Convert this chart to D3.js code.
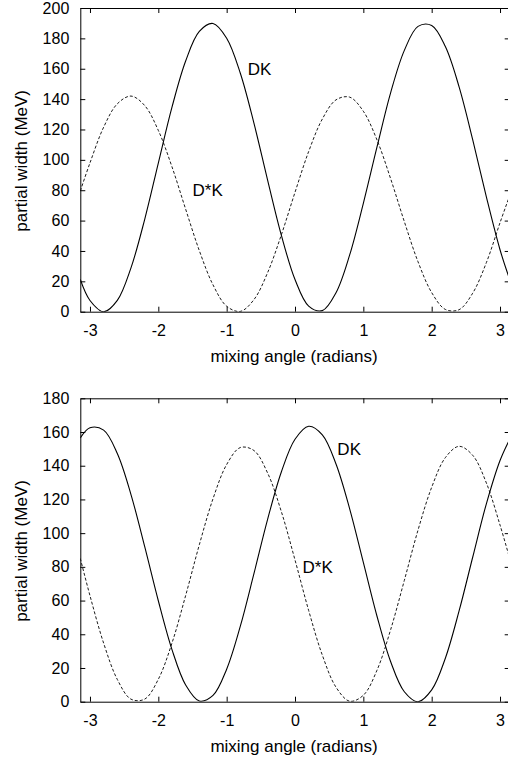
<!DOCTYPE html>
<html>
<head>
<meta charset="utf-8">
<script src="https://cdn.jsdelivr.net/npm/d3@7"></script>
<style>
  html, body { margin: 0; padding: 0; background: #fff; }
  svg { display: block; font-family: "Liberation Sans", Arial, Helvetica, sans-serif; }
  .tick text { font-size: 16px; fill: #000; }
  .axis-title, .curve-label { font-size: 17px; fill: #000; }
</style>
</head>
<body>
<script>
// mixing angle samples (radians)
const angles = [-3.1416, -3.0, -2.8, -2.6, -2.4, -2.2, -2.0, -1.8, -1.6, -1.4, -1.2, -1.0,
  -0.8, -0.6, -0.4, -0.2, 0.0, 0.2, 0.4, 0.6, 0.8, 1.0, 1.2, 1.4, 1.6, 1.8, 2.0,
  2.2, 2.4, 2.6, 2.8, 3.0, 3.1416];

// upper panel, partial widths in MeV
const dkTop = [21.2, 7.4, 0.0, 7.5, 28.9, 60.7, 97.9, 134.7, 165.1, 184.6, 189.8, 180.1,
  157.0, 124.0, 86.5, 50.4, 21.2, 3.7, 0.7, 12.5, 37.4, 71.4, 108.5, 144.3, 172.1, 187.9, 188.5,
  174.6, 148.2, 113.3, 75.6, 40.8, 21.2];
const dstarkTop = [79.5, 98.0, 121.5, 136.9, 142.0, 135.8, 119.4, 95.4, 67.5, 40.2, 17.7, 3.6,
  0.2, 8.0, 25.8, 50.6, 78.6, 105.5, 126.9, 139.5, 141.3, 132.0, 113.1, 87.5, 59.3, 32.9, 12.6,
  1.5, 1.3, 12.2, 32.3, 58.6, 76.5];

// lower panel, partial widths in MeV
const dkBottom = [156.5, 162.5, 161.1, 147.2, 122.9, 92.1, 59.9, 30.9, 9.9, 0.4, 3.7, 19.3,
  44.8, 76.1, 108.3, 136.3, 155.7, 163.4, 158.3, 141.0, 114.4, 82.6, 50.7, 23.7, 5.9, 0.0, 7.0,
  25.8, 53.7, 85.7, 117.4, 143.1, 155.7];
const dstarkBottom = [85.0, 62.9, 34.7, 13.2, 1.5, 1.5, 13.3, 34.8, 63.0, 93.1, 120.4, 140.7,
  150.8, 149.0, 135.6, 112.8, 84.1, 54.1, 27.6, 8.6, 0.3, 3.8, 18.7, 42.8, 72.0, 101.8, 127.2,
  144.8, 151.5, 146.2, 129.8, 104.8, 85.0];

const xTicks = [-3, -2, -1, 0, 1, 2, 3];
const yTicksTop = [0, 20, 40, 60, 80, 100, 120, 140, 160, 180, 200];
const yTicksBottom = [0, 20, 40, 60, 80, 100, 120, 140, 160, 180];

const xTitle = 'mixing angle (radians)';
const yTitle = 'partial width (MeV)';

const width = 508, height = 763;

const svg = d3.select('body').append('svg')
  .attr('width', width)
  .attr('height', height)
  .attr('viewBox', `0 0 ${width} ${height}`);

// plain hyphen minus like the original plot
const plainNum = d => String(d);

// one gnuplot-style panel
function drawPanel(cfg) {
  const left = 80.3, right = 509.7;
  const x = d3.scaleLinear().domain([-Math.PI, Math.PI]).range([left, right]);
  const y = d3.scaleLinear().domain([0, cfg.yMax]).range([cfg.bottom, cfg.top]);

  const g = svg.append('g');

  const clipId = 'clip-' + cfg.id;
  g.append('clipPath').attr('id', clipId)
    .append('rect')
    .attr('x', left).attr('y', cfg.top)
    .attr('width', right - left).attr('height', cfg.bottom - cfg.top);

  // axes with inward ticks on all four sides
  g.append('g')
    .attr('transform', `translate(0,${cfg.bottom})`)
    .call(d3.axisBottom(x).tickValues(xTicks).tickSize(-5).tickSizeOuter(0)
      .tickPadding(13).tickFormat(plainNum));
  g.append('g')
    .attr('transform', `translate(0,${cfg.top})`)
    .call(d3.axisTop(x).tickValues(xTicks).tickSize(-5).tickSizeOuter(0).tickFormat(''));
  g.append('g')
    .attr('transform', `translate(${left},0)`)
    .call(d3.axisLeft(y).tickValues(cfg.yTicks).tickSize(-5).tickSizeOuter(0)
      .tickPadding(11).tickFormat(plainNum));
  g.append('g')
    .attr('transform', `translate(${right},0)`)
    .call(d3.axisRight(y).tickValues(cfg.yTicks).tickSize(-5).tickSizeOuter(0).tickFormat(''));

  g.selectAll('.domain').attr('stroke', '#000');
  g.selectAll('.tick line').attr('stroke', '#000');

  const line = () => d3.line()
    .curve(d3.curveCatmullRom)
    .x((d, i) => x(angles[i]))
    .y(d => y(d));

  // D*K dashed
  g.append('path')
    .datum(cfg.dstark)
    .attr('clip-path', `url(#${clipId})`)
    .attr('fill', 'none')
    .attr('stroke', '#000')
    .attr('stroke-width', 0.9)
    .attr('stroke-dasharray', '3,2')
    .attr('d', line());

  // DK solid
  g.append('path')
    .datum(cfg.dk)
    .attr('clip-path', `url(#${clipId})`)
    .attr('fill', 'none')
    .attr('stroke', '#000')
    .attr('stroke-width', 1.1)
    .attr('d', line());

  // curve labels
  g.append('text').attr('class', 'curve-label')
    .attr('x', x(cfg.dkLabel[0])).attr('y', y(cfg.dkLabel[1]))
    .attr('dy', '0.35em')
    .text('DK');
  g.append('text').attr('class', 'curve-label')
    .attr('x', x(cfg.dstarkLabel[0])).attr('y', y(cfg.dstarkLabel[1]))
    .attr('dy', '0.35em')
    .text('D*K');

  // axis titles
  g.append('text').attr('class', 'axis-title')
    .attr('text-anchor', 'middle')
    .attr('x', (left + right) / 2 - 1)
    .attr('y', cfg.bottom + 50)
    .text(xTitle);
  g.append('text').attr('class', 'axis-title')
    .attr('text-anchor', 'middle')
    .attr('transform', 'rotate(-90)')
    .attr('x', -((cfg.top + cfg.bottom) / 2 + 1))
    .attr('y', 27)
    .text(yTitle);
}

drawPanel({
  id: 'top', top: 8, bottom: 311.7, yMax: 200, yTicks: yTicksTop,
  dk: dkTop, dstark: dstarkTop,
  dkLabel: [-0.69, 160], dstarkLabel: [-1.5, 80]
});

drawPanel({
  id: 'bottom', top: 398.3, bottom: 701.7, yMax: 180, yTicks: yTicksBottom,
  dk: dkBottom, dstark: dstarkBottom,
  dkLabel: [0.62, 150], dstarkLabel: [0.11, 80]
});
</script>
</body>
</html>
